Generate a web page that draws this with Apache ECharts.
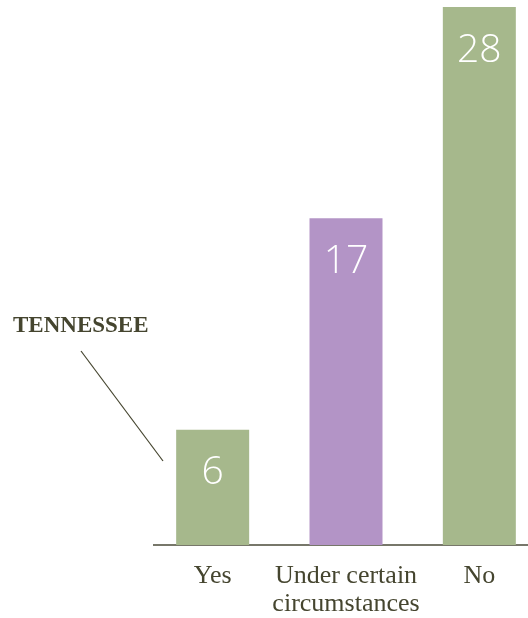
<!DOCTYPE html>
<html>
<head>
<meta charset="utf-8">
<script src="https://cdn.jsdelivr.net/npm/echarts@6/dist/echarts.min.js"></script>
<style>
  html, body { margin: 0; padding: 0; background: #ffffff; }
  #main { width: 528px; height: 618px; }
</style>
</head>
<body>
<div id="main"></div>
<script>
// data
var categories = ['Yes', 'Under certain\ncircumstances', 'No'];
var values = [6, 17, 28];
var barColors = ['#a6b88c', '#b394c6', '#a6b88c'];
var stateName = 'TENNESSEE';

var chart = echarts.init(document.getElementById('main'), null, { renderer: 'canvas' });

var option = {
  backgroundColor: '#ffffff',
  animation: false,
  // grid runs past the right edge, so turn off the v6 outer bounds clamp
  grid: { left: 146, width: 400, top: 7, bottom: 73, outerBoundsMode: 'none', containLabel: false },
  xAxis: {
    type: 'category',
    data: categories,
    axisLine: { show: false },
    axisTick: { show: false },
    axisLabel: {
      interval: 0,
      color: '#45452f',
      fontFamily: 'Liberation Serif',
      fontSize: 26,
      lineHeight: 28,
      margin: 17
    }
  },
  yAxis: {
    type: 'value',
    min: 0,
    max: 28,
    show: false
  },
  series: [{
    type: 'bar',
    barWidth: 73,
    data: values.map(function (v, i) {
      return { value: v, itemStyle: { color: barColors[i] } };
    }),
    label: {
      show: true,
      position: 'insideTop',
      distance: 24,
      color: '#ffffff',
      fontFamily: 'Open Sans',
      fontWeight: 300,
      fontSize: 39
    }
  }],
  graphic: [
    {
      type: 'line',
      shape: { x1: 153, y1: 545, x2: 528, y2: 545 },
      style: { stroke: '#4a4a38', lineWidth: 1.5 }
    },
    {
      type: 'text',
      left: 13,
      top: 315,
      style: {
        text: stateName,
        fill: '#45452f',
        font: 'bold 23px "Liberation Serif"'
      }
    },
    {
      type: 'line',
      shape: { x1: 81, y1: 351, x2: 163, y2: 461 },
      style: { stroke: '#45452f', lineWidth: 1.2 }
    }
  ]
};

chart.setOption(option);
</script>
</body>
</html>
